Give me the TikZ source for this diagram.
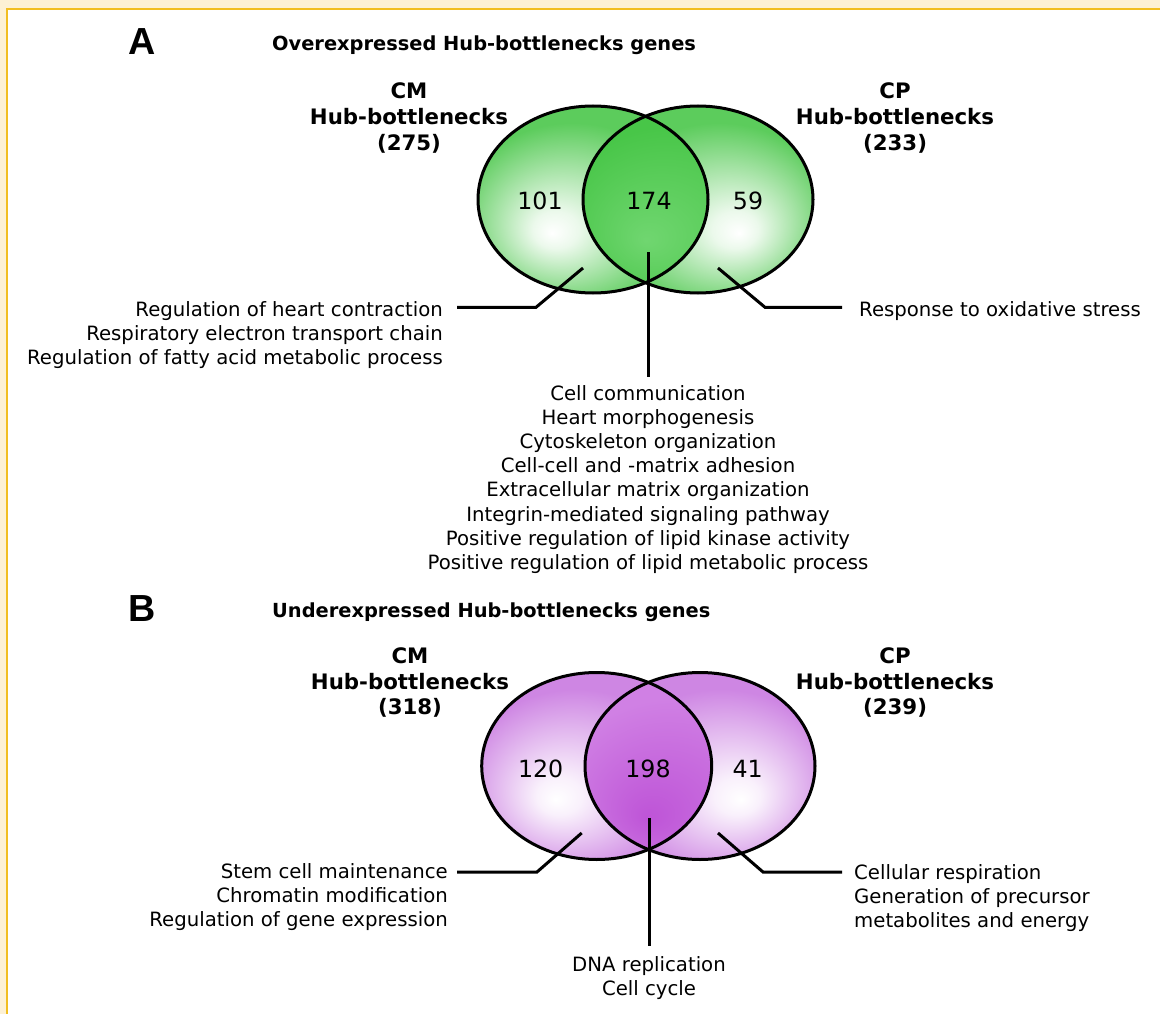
\documentclass[tikz,border=0pt]{standalone}
\usepackage{fontspec}
\setmainfont{DejaVu Sans}
\newfontfamily\labfont{Liberation Sans}
\definecolor{cream}{RGB}{253,241,212}
\definecolor{goldline}{RGB}{242,190,32}
\definecolor{gOut}{RGB}{92,204,92}
\definecolor{gLensOut}{RGB}{72,198,72}
\definecolor{gLensIn}{RGB}{112,214,112}
\definecolor{pOut}{RGB}{206,134,227}
\definecolor{pLensOut}{RGB}{208,128,228}
\definecolor{pLensIn}{RGB}{190,84,215}
\pgfdeclareradialshading{gL}{\pgfpoint{-9bp}{-9bp}}{color(0bp)=(white); color(5bp)=(white!88!gOut); color(25bp)=(gOut); color(50bp)=(gOut)}
\pgfdeclareradialshading{gR}{\pgfpoint{9bp}{-9bp}}{color(0bp)=(white); color(5bp)=(white!88!gOut); color(25bp)=(gOut); color(50bp)=(gOut)}
\pgfdeclareradialshading{gLens}{\pgfpoint{-11.4bp}{-11bp}}{color(0bp)=(gLensIn); color(25bp)=(gLensOut); color(50bp)=(gLensOut)}
\pgfdeclareradialshading{pL}{\pgfpoint{-9bp}{-9bp}}{color(0bp)=(white); color(5bp)=(white!88!pOut); color(25bp)=(pOut); color(50bp)=(pOut)}
\pgfdeclareradialshading{pR}{\pgfpoint{9bp}{-9bp}}{color(0bp)=(white); color(5bp)=(white!88!pOut); color(25bp)=(pOut); color(50bp)=(pOut)}
\pgfdeclareradialshading{pLens}{\pgfpoint{-11.4bp}{-14bp}}{color(0bp)=(pLensIn); color(25bp)=(pLensOut); color(50bp)=(pLensOut)}
\begin{document}
\begin{tikzpicture}[x=1pt,y=-1pt,
  body/.style={font=\fontsize{19.7}{24.1}\selectfont, inner sep=0pt},
  lab/.style={font=\bfseries\fontsize{21.3}{25.8}\selectfont, align=center, inner sep=0pt, anchor=north},
  ttl/.style={font=\bfseries\fontsize{19.4}{24}\selectfont, inner sep=0pt, anchor=base west},
  panel/.style={font=\labfont\bfseries\fontsize{37.7}{40}\selectfont, inner sep=0pt, anchor=base west},
  num/.style={font=\fontsize{23.7}{28}\selectfont, inner sep=0pt, anchor=base},
  vline/.style={line width=3pt, black},
  conn/.style={line width=3pt, black}]
\useasboundingbox (0,0) rectangle (1160,1014);
\fill[cream] (0,0) rectangle (1160,1014);
\fill[white] (7,9) rectangle (1160,1014);
\draw[goldline, line width=2.2pt] (7,1014) -- (7,9) -- (1160,9);

% ---------------- Panel A ----------------
\node[panel] (pA) at (128,55) {A};
\node[ttl] (tA) at (272,50.7) {Overexpressed Hub-bottlenecks genes};
\node[lab] (cmA) at (409,82.5) {CM\\Hub-bottlenecks\\(275)};
\node[lab] (cpA) at (895,82.5) {CP\\Hub-bottlenecks\\(233)};

\shade[shading=gL] (593,199.5) ellipse [x radius=115, y radius=93.5];
\shade[shading=gR] (698,199.5) ellipse [x radius=115, y radius=93.5];
\begin{scope}
  \clip (593,199.5) ellipse [x radius=115, y radius=93.5];
  \shade[shading=gLens] (698,199.5) ellipse [x radius=115, y radius=93.5];
\end{scope}
\draw[vline] (593,199.5) ellipse [x radius=115, y radius=93.5];
\draw[vline] (698,199.5) ellipse [x radius=115, y radius=93.5];

\node[num] (nA1) at (540,209) {101};
\node[num] (nA2) at (649,209) {174};
\node[num] (nA3) at (748,209) {59};

\coordinate (aL0) at (583,268);
\coordinate (aL1) at (536,307.3);
\coordinate (aL2) at (457,307.3);
\coordinate (aM0) at (648,252);
\coordinate (aM1) at (648,377);
\coordinate (aR0) at (718,268);
\coordinate (aR1) at (765,307.3);
\coordinate (aR2) at (842,307.3);
\draw[conn] (aL0) -- (aL1) -- (aL2);
\draw[conn] (aM0) -- (aM1);
\draw[conn] (aR0) -- (aR1) -- (aR2);

\node[body, align=right, anchor=north east] (txAL) at (443,301)
  {Regulation of heart contraction\\Respiratory electron transport chain\\Regulation of fatty acid metabolic process};
\node[body, anchor=base west] (txAR) at (859,316) {Response to oxidative stress};
\node[body, align=center, anchor=north] (txAM) at (648,385.4)
  {Cell communication\\Heart morphogenesis\\Cytoskeleton organization\\Cell-cell and -matrix adhesion\\Extracellular matrix organization\\Integrin-mediated signaling pathway\\Positive regulation of lipid kinase activity\\Positive regulation of lipid metabolic process};

% ---------------- Panel B ----------------
\node[panel] (pB) at (128,621.5) {B};
\node[ttl] (tB) at (272,617.2) {Underexpressed Hub-bottlenecks genes};
\node[lab] (cmB) at (410,647.2) {CM\\Hub-bottlenecks\\(318)};
\node[lab] (cpB) at (895,647.2) {CP\\Hub-bottlenecks\\(239)};

\shade[shading=pL] (596.7,766) ellipse [x radius=115, y radius=93.5];
\shade[shading=pR] (700,766) ellipse [x radius=115, y radius=93.5];
\begin{scope}
  \clip (596.7,766) ellipse [x radius=115, y radius=93.5];
  \shade[shading=pLens] (700,766) ellipse [x radius=115, y radius=93.5];
\end{scope}
\draw[vline] (596.7,766) ellipse [x radius=115, y radius=93.5];
\draw[vline] (700,766) ellipse [x radius=115, y radius=93.5];

\node[num] (nB1) at (540.7,777.3) {120};
\node[num] (nB2) at (648,777.3) {198};
\node[num] (nB3) at (747.7,777.3) {41};

\coordinate (bL0) at (581.7,833);
\coordinate (bL1) at (537,872);
\coordinate (bL2) at (457,872);
\coordinate (bM0) at (649,818);
\coordinate (bM1) at (649,946);
\coordinate (bR0) at (718,833);
\coordinate (bR1) at (763,872);
\coordinate (bR2) at (842,872);
\draw[conn] (bL0) -- (bL1) -- (bL2);
\draw[conn] (bM0) -- (bM1);
\draw[conn] (bR0) -- (bR1) -- (bR2);

\node[body, align=right, anchor=north east] (txBL) at (448,863.5)
  {Stem cell maintenance\\Chromatin modification\\Regulation of gene expression};
\node[body, align=left, anchor=north west] (txBR) at (854,864)
  {Cellular respiration\\Generation of precursor\\metabolites and energy};
\node[body, align=center, anchor=north] (txBM) at (649,956.5)
  {DNA replication\\Cell cycle};
\end{tikzpicture}
\end{document}
